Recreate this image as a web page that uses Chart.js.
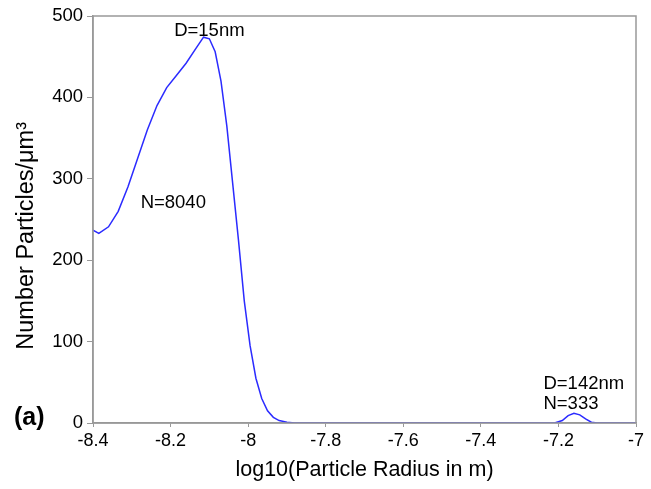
<!DOCTYPE html>
<html>
<head>
<meta charset="utf-8">
<script src="https://cdn.jsdelivr.net/npm/chart.js@4/dist/chart.umd.min.js"></script>
<style>
  html, body { margin: 0; padding: 0; background: #fff; }
  #wrap { width: 651px; height: 489px; }
</style>
</head>
<body>
<div id="wrap"><canvas id="myChart" width="651" height="489"></canvas></div>
<script>
// log10 of particle radius (m)
var logRadius = [-8.4, -8.385, -8.36, -8.335, -8.31, -8.285, -8.26, -8.235, -8.21, -8.185,
    -8.16, -8.135, -8.115, -8.1, -8.085, -8.07, -8.055, -8.04, -8.025, -8.01,
    -7.995, -7.98, -7.965, -7.95, -7.935, -7.92, -7.9, -7.88, -7.6, -7.3,
    -7.21, -7.19, -7.175, -7.16, -7.145, -7.13, -7.115, -7.1, -7.0];
// number particles per um^3
var numberDensity = [237, 233, 241, 260, 290, 325, 360, 390, 412, 427,
    442, 460, 474, 472, 456, 420, 365, 295, 225, 150,
    95, 55, 30, 15, 7, 3, 1, 0, 0, 0,
    0, 3, 9, 12, 10, 5, 1, 0, 0];

var xTicks = [-8.4, -8.2, -8, -7.8, -7.6, -7.4, -7.2, -7];
var yTicks = [0, 100, 200, 300, 400, 500];

// text notes, placed in data units
var notes = [
    {text: "D=15nm", x: -8.1, y: 482, align: 'center'},
    {text: "N=8040", x: -8.193, y: 270, align: 'center'},
    {text: "D=142nm", x: -7.2, y: 48, align: 'left'},
    {text: "N=333", x: -7.2, y: 24, align: 'left'}
];

var points = [];
for (var i = 0; i < logRadius.length; i++) {
    points.push({x: logRadius[i], y: numberDensity[i]});
}

var FONT = '"Liberation Sans", Arial, sans-serif';

var frame = {
    id: 'frame',
    afterDraw: function(chart){
        var ctx = chart.ctx;
        var a = chart.chartArea;
        ctx.save();
        ctx.strokeStyle = '#999';
        ctx.lineWidth = 1.5;
        ctx.strokeRect(a.left, a.top, a.right - a.left, a.bottom - a.top);

        var xs = chart.scales.x, ys = chart.scales.y;
        ctx.fillStyle = '#000';
        ctx.textBaseline = 'middle';
        ctx.font = '18.5px ' + FONT;
        notes.forEach(function(n){
            ctx.textAlign = n.align;
            ctx.fillText(n.text, xs.getPixelForValue(n.x) - (n.align == 'left' ? 15 : 0), ys.getPixelForValue(n.y));
        });
        ctx.font = 'bold 25px ' + FONT;
        ctx.textAlign = 'left';
        ctx.fillText('(a)', 14, ys.getPixelForValue(0) - 5);
        ctx.restore();
    }
};

new Chart('myChart', {
    type: 'line',
    data: {
        datasets: [
            {
                data: points,
                borderColor: '#2b2bff',
                borderWidth: 1.5,
                pointRadius: 0,
                tension: 0,
                fill: false
            }
        ]
    },
    options: {
        responsive: false,
        animation: false,
        layout: {
            padding: {top: 16, right: 15, left: 0, bottom: 0}
        },
        plugins: {
            legend: {display: false},
            tooltip: {enabled: false}
        },
        scales: {
            x: {
                type: 'linear',
                min: -8.4,
                max: -7,
                afterBuildTicks: function(axis){
                    axis.ticks = xTicks.map(function(v){ return {value: v}; });
                },
                afterFit: function(axis){ axis.height = 66; },
                border: {color: '#999', width: 1.5},
                grid: {drawOnChartArea: false, color: '#999', tickLength: 4},
                ticks: {
                    color: '#000',
                    padding: 3,
                    maxRotation: 0,
                    font: {family: FONT, size: 18},
                    callback: function(v){ return String(Math.round(v * 10) / 10); }
                },
                title: {
                    display: true,
                    text: 'log10(Particle Radius in m)',
                    color: '#000',
                    font: {family: FONT, size: 21.5},
                    padding: {top: 0, bottom: 6}
                }
            },
            y: {
                min: 0,
                max: 500,
                afterBuildTicks: function(axis){
                    axis.ticks = yTicks.map(function(v){ return {value: v}; });
                },
                afterFit: function(axis){ axis.width = 93; },
                border: {color: '#999', width: 1.5},
                grid: {drawOnChartArea: false, color: '#999', tickLength: 6},
                ticks: {
                    color: '#000',
                    padding: 4,
                    font: {family: FONT, size: 18.5}
                },
                title: {
                    display: true,
                    // trailing spaces push the text down a little, as in the original
                    text: 'Number Particles/\u03bcm\u00b3\u00a0\u00a0\u00a0\u00a0\u00a0',
                    color: '#000',
                    font: {family: FONT, size: 23.5},
                    padding: {top: 12, bottom: 0}
                }
            }
        }
    },
    plugins: [frame]
});
</script>
</body>
</html>
